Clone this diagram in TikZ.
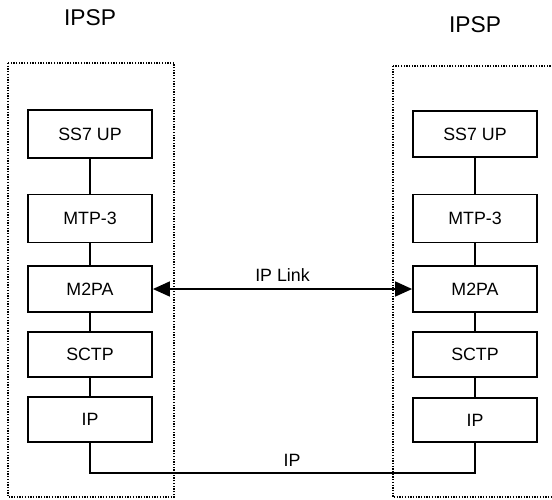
\documentclass[tikz,border=0pt]{standalone}
\usepackage{fontspec}
\setmainfont{Liberation Sans}
\usetikzlibrary{arrows.meta}
\tikzset{bigtip/.tip={Triangle[length=17pt,width=15pt]}}
\begin{document}
\begin{tikzpicture}[x=1pt,y=-1pt,
  layer/.style={draw,line width=1.8pt,minimum width=124pt,inner sep=0pt,font=\fontsize{17.8}{20}\selectfont},
  group/.style={draw,line width=1.3pt,dash pattern=on 1.3pt off 1.4pt},
  link/.style={line width=1.6pt},
  title/.style={font=\fontsize{22.8}{26}\selectfont},
  lbl/.style={font=\fontsize{17.8}{20}\selectfont}]
\useasboundingbox (0,0) rectangle (552,499);
\begin{scope}
\clip (0,0) rectangle (552,499);
% dotted outlines of the two IPSPs
\draw[group] (8,63) rectangle (174,497);
\draw[group] (393,66) rectangle (570,497);
\end{scope}
\node[title] (tl) at (90,18) {IPSP};
\node[title] (tr) at (475,25) {IPSP};
% left protocol stack
\node[layer,minimum height=48pt] (l1) at (90,134) {SS7 UP};
\node[layer,minimum height=48pt] (l2) at (90,218.5) {MTP-3};
\node[layer,minimum height=46pt] (l3) at (90,289) {M2PA};
\node[layer,minimum height=45pt] (l4) at (90,354.5) {SCTP};
\node[layer,minimum height=45pt] (l5) at (90,419.5) {IP};
% right protocol stack
\node[layer,minimum height=46pt] (r1) at (475,134) {SS7 UP};
\node[layer,minimum height=48pt] (r2) at (475,218.5) {MTP-3};
\node[layer,minimum height=46pt] (r3) at (475,289) {M2PA};
\node[layer,minimum height=45pt] (r4) at (475,354.5) {SCTP};
\node[layer,minimum height=44pt] (r5) at (475,420) {IP};
\foreach \a/\b in {l1/l2,l2/l3,l3/l4,l4/l5,r1/r2,r2/r3,r3/r4,r4/r5}
  \draw[link] (\a.south) -- (\b.north);
% peer links
\draw[link,bigtip-bigtip] (l3.east) -- (r3.west)
  node[lbl,midway,above=3pt] (ipl) {IP Link};
\draw[link] (l5.south) |- (475,473) coordinate (ipm) -| (r5.south);
\node[lbl] (ipb) at (292,460) {IP};
\end{tikzpicture}
\end{document}
